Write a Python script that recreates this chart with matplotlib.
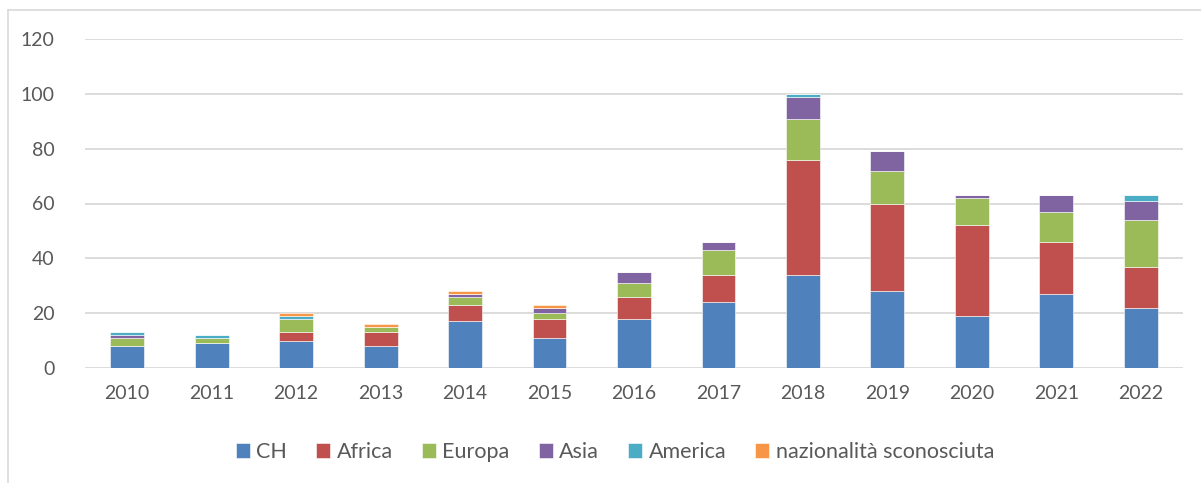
import numpy as np
import matplotlib.pyplot as plt
from matplotlib.lines import Line2D

# Data
years = ['2010', '2011', '2012', '2013', '2014', '2015', '2016',
         '2017', '2018', '2019', '2020', '2021', '2022']
ch = [8, 9, 10, 8, 17, 11, 18, 24, 34, 28, 19, 27, 22]
africa = [0, 0, 3, 5, 6, 7, 8, 10, 42, 32, 33, 19, 15]
europa = [3, 2, 5, 2, 3, 2, 5, 9, 15, 12, 10, 11, 17]
asia = [1, 0, 0, 0, 1, 2, 4, 3, 8, 7, 1, 6, 7]
america = [1, 1, 1, 0, 0, 0, 0, 0, 1, 0, 0, 0, 2]
sconosciuta = [0, 0, 1, 1, 1, 1, 0, 0, 0, 0, 0, 0, 0]

series_names = ['CH', 'Africa', 'Europa', 'Asia', 'America', 'nazionalità sconosciuta']
series_colors = ['#4F81BD', '#C0504D', '#9BBB59', '#8064A2', '#4BACC6', '#F79646']
series = [ch, africa, europa, asia, america, sconosciuta]

text_col = '#595959'
plt.rcParams['font.family'] = ['Lato', 'DejaVu Sans']

fig = plt.figure(figsize=(12.01, 4.83), dpi=100)
ax = fig.add_axes([85 / 1201, 115 / 483, 1098 / 1201, 329 / 483])

# Light grey frame (top and left edges only are visible in the crop)
fx, fy = 8 / 1201, 1 - 10 / 483
fig.lines.append(Line2D([fx, 1.0], [fy, fy], transform=fig.transFigure,
                        color='#D9D9D9', linewidth=1.2))
fig.lines.append(Line2D([fx, fx], [0.0, fy], transform=fig.transFigure,
                        color='#D9D9D9', linewidth=1.2))

x = np.arange(len(years))
bottom = np.zeros(len(years))
for name, col, vals in zip(series_names, series_colors, series):
    vals = np.array(vals, dtype=float)
    ax.bar(x, vals, width=0.4, bottom=bottom, color=col, label=name,
           edgecolor='white', linewidth=0.4, zorder=3)
    bottom += vals

ax.set_xlim(-0.5, len(years) - 0.5)
ax.set_ylim(0, 120)
ax.set_yticks(np.arange(0, 121, 20))
ax.set_xticks(x)
ax.set_xticklabels(years)
ax.yaxis.grid(True, color='#D9D9D9', linewidth=1.3, zorder=0)
ax.tick_params(axis='both', length=0, labelsize=14, labelcolor=text_col)
ax.tick_params(axis='x', pad=12)
ax.tick_params(axis='y', pad=22)
for s in ax.spines.values():
    s.set_visible(False)

fig.legend(loc='center', bbox_to_anchor=(615 / 1201, 1 - 452 / 483), ncol=6,
           frameon=False, fontsize=15.5, labelcolor=text_col,
           handlelength=0.65, handleheight=0.65, handletextpad=0.3,
           columnspacing=1.35)

fig.savefig('out.png', dpi=100)
